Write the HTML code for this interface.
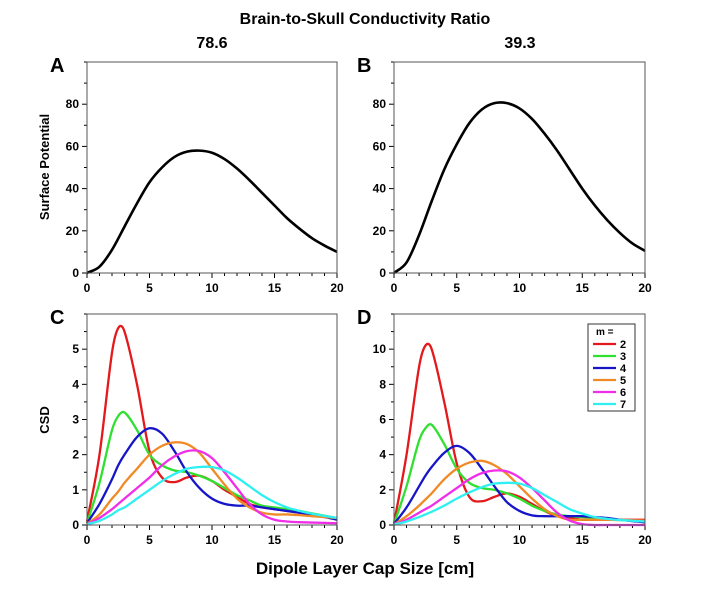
<!DOCTYPE html>
<html><head><meta charset="utf-8"><style>
body{margin:0;background:#fff;}
svg{display:block;font-family:"Liberation Sans",Arial,sans-serif;font-weight:bold;}
</style></head><body>
<svg id="fig" width="720" height="594" viewBox="0 0 720 594">
<text x="365" y="24" text-anchor="middle" font-size="16">Brain-to-Skull Conductivity Ratio</text>
<text x="212" y="48" text-anchor="middle" font-size="16">78.6</text>
<text x="520" y="48" text-anchor="middle" font-size="16">39.3</text>
<text x="365" y="574" text-anchor="middle" font-size="17">Dipole Layer Cap Size [cm]</text>
<text transform="translate(49,167) rotate(-90)" text-anchor="middle" font-size="13">Surface Potential</text>
<text transform="translate(49,420) rotate(-90)" text-anchor="middle" font-size="13">CSD</text>
<g id="plots"></g>
</svg>
<script>
const potX = [0,1,2,3,4,5,6,7,8,9,10,11,12,13,14,15,16,17,18,19,20];
const potA = [0,3,11,22,33,43,50,55,57.5,58,57,54,49.5,44,38,32,26,21,16.5,13,10];
const potB = [0,5,18,34,49,61,71,77.5,80.5,80.5,78,73,66,58,49,40,32,25,19,14,10.5];
const csdX = [0,1,2,2.5,3,4,5,6,7,8,9,10,11,12,13,14,15,16,17,18,20];
const mLabels = ["2","3","4","5","6","7"];
const colors = ["#e3191c","#2fe02f","#1616c8","#f08a25","#f02ee8","#2ef0f0"];
const csdC = [
 [0.1,2.0,4.9,5.6,5.5,4.0,2.1,1.35,1.22,1.35,1.4,1.25,1.0,0.8,0.6,0.5,0.45,0.4,0.35,0.3,0.2],
 [0.05,1.2,2.7,3.1,3.2,2.7,2.0,1.7,1.55,1.5,1.4,1.25,1.05,0.85,0.7,0.55,0.5,0.45,0.4,0.33,0.2],
 [0.05,0.6,1.3,1.7,2.0,2.5,2.75,2.6,2.1,1.5,1.05,0.75,0.6,0.55,0.55,0.5,0.45,0.4,0.35,0.3,0.15],
 [0.03,0.3,0.75,0.95,1.2,1.6,2.0,2.25,2.35,2.3,2.05,1.6,1.15,0.75,0.5,0.35,0.3,0.3,0.28,0.25,0.2],
 [0.02,0.2,0.45,0.6,0.75,1.05,1.35,1.7,1.95,2.1,2.1,1.9,1.5,1.05,0.6,0.3,0.15,0.1,0.08,0.07,0.05],
 [0.02,0.12,0.3,0.42,0.5,0.75,1.0,1.25,1.45,1.6,1.65,1.65,1.55,1.35,1.1,0.85,0.65,0.5,0.4,0.32,0.2]
];
const csdD = [
 [0.1,4,9.0,10.2,10.0,7.0,3.5,1.6,1.35,1.6,1.8,1.6,1.2,0.8,0.5,0.4,0.3,0.3,0.3,0.3,0.3],
 [0.05,2.2,4.8,5.5,5.7,4.6,3.2,2.4,2.1,2.0,1.8,1.5,1.1,0.8,0.6,0.5,0.45,0.4,0.35,0.3,0.2],
 [0.05,1.0,2.2,2.8,3.3,4.1,4.5,4.1,3.2,2.2,1.3,0.8,0.55,0.5,0.5,0.5,0.5,0.45,0.4,0.3,0.15],
 [0.03,0.5,1.1,1.45,1.8,2.6,3.2,3.55,3.65,3.4,2.9,2.2,1.5,0.9,0.5,0.3,0.3,0.3,0.3,0.28,0.25],
 [0.02,0.3,0.7,0.9,1.1,1.6,2.1,2.6,2.95,3.1,3.05,2.7,2.1,1.4,0.7,0.25,0.05,0,0,0,0],
 [0.02,0.2,0.45,0.6,0.75,1.1,1.5,1.85,2.15,2.35,2.4,2.35,2.1,1.7,1.3,0.9,0.65,0.45,0.35,0.28,0.2]
];
const xTicks = [0,5,10,15,20];
const NS="http://www.w3.org/2000/svg";
const root=document.getElementById('plots');
function mk(tag,attrs,parent){const e=document.createElementNS(NS,tag);for(const k in attrs)e.setAttribute(k,attrs[k]);(parent||root).appendChild(e);return e;}
function smooth(pts){
 const n=pts.length, m=[];
 for(let i=0;i<n;i++){
  const a=pts[Math.max(0,i-1)], b=pts[Math.min(n-1,i+1)];
  m.push((b[1]-a[1])/(b[0]-a[0]));
 }
 let d="M"+pts[0][0]+","+pts[0][1];
 for(let i=0;i<n-1;i++){
  const p1=pts[i],p2=pts[i+1],h=(p2[0]-p1[0])/3;
  d+=" C"+(p1[0]+h)+","+(p1[1]+m[i]*h)+" "+(p2[0]-h)+","+(p2[1]-m[i+1]*h)+" "+p2[0]+","+p2[1];
 }
 return d;}
function panel(name,letter,L,R,T,B,ymax,yTicks,yMinor,xs,series,cols,width){
 const g=mk('g',{});
 
 
 const sx=v=>L+(R-L)*v/20, sy=v=>B-(B-T)*v/ymax;
 const lt=mk('text',{x:L-37,y:T+10,'font-size':20},g);lt.textContent=letter;
 
 
 for(let v=0;v<=20;v++){mk('line',{x1:sx(v),x2:sx(v),y1:B,y2:B+(v%5?3:5),stroke:'#000','stroke-width':1},g);}
 xTicks.forEach(v=>{const t=mk('text',{x:sx(v),y:B+19,'font-size':12,'text-anchor':'middle'},g);t.textContent=v;
  
  });
 for(let v=0;v<=ymax+1e-9;v+=yMinor){const major=yTicks.some(t=>Math.abs(t-v)<1e-6);
  mk('line',{x1:L,x2:L-(major?5:3),y1:sy(v),y2:sy(v),stroke:'#000','stroke-width':1},g);}
 yTicks.forEach(v=>{const t=mk('text',{x:L-8,y:sy(v)+4,'font-size':12,'text-anchor':'end'},g);t.textContent=v;
  
  });
 series.forEach((ys,i)=>{const p=mk('path',{d:smooth(xs.map((x,j)=>[sx(x),sy(ys[j])])),fill:'none',stroke:cols[i],'stroke-width':width,'stroke-linejoin':'round'},g);
  
  });
 const f=mk('rect',{x:L,y:T,width:R-L,height:B-T,fill:'none',stroke:'#555','stroke-width':1},g);
 
 
}
panel('a','A',87,337,62,273,100,[0,20,40,60,80],10,potX,[potA],['#000'],2.6);
panel('b','B',394,645,62,273,100,[0,20,40,60,80],10,potX,[potB],['#000'],2.6);
panel('c','C',87,337,314,525,6,[0,1,2,3,4,5],0.5,csdX,csdC,colors,2.3);
panel('d','D',394,645,314,525,12,[0,2,4,6,8,10],1,csdX,csdD,colors,2.3);
const lg=mk('g',{});


mk('rect',{x:588,y:324,width:47,height:87,fill:'#fff',stroke:'#333','stroke-width':1},lg);
const lh=mk('text',{x:596,y:335,'font-size':10},lg);lh.textContent='m =';
mLabels.forEach((m,i)=>{const y=347+i*12;
 const ln=mk('line',{x1:593,x2:616,y1:y-3,y2:y-3,stroke:colors[i],'stroke-width':2.2},lg);
 
 
 const t=mk('text',{x:620,y:y+1,'font-size':11},lg);t.textContent=m;
 
 });
</script>
</body></html>
